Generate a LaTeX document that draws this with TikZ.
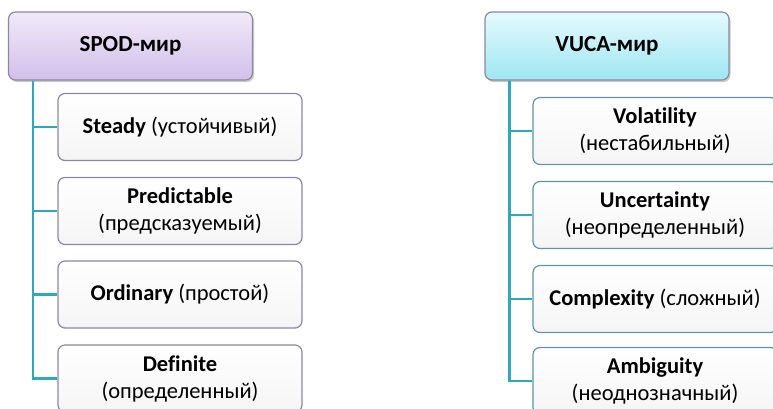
\documentclass[tikz,border=0pt]{standalone}
\usepackage{fontspec}
\setmainfont{Carlito}[Ligatures=NoCommon]
\usetikzlibrary{shadows}

\definecolor{spodtop}{HTML}{F1EAF8}
\definecolor{spodbot}{HTML}{D2BFEB}
\definecolor{vucatop}{HTML}{E4FAFD}
\definecolor{vucabot}{HTML}{9FE6F2}
\definecolor{headline}{HTML}{8A8A9E}
\definecolor{spodline}{HTML}{8C86A8}
\definecolor{vucaline}{HTML}{5F93A8}
\definecolor{branch}{HTML}{2FA9BA}

\tikzset{
  headbox/.style={draw=headline, line width=1.2pt, rounded corners=7pt,
    minimum width=244pt, minimum height=68pt, font=\fontsize{23}{27}\selectfont\bfseries,
    drop shadow={shadow xshift=1.5pt, shadow yshift=-2pt, fill=black!35, opacity=0.6}},
  itembox/.style={line width=1.2pt, rounded corners=7pt, top color=white, bottom color=black!4,
    minimum width=244pt, minimum height=67pt, align=center,
    font=\fontsize{22.5}{27}\selectfont},
  spoditem/.style={itembox, draw=spodline},
  vucaitem/.style={itembox, draw=vucaline},
  conn/.style={draw=branch, line width=2.2pt}
}

\begin{document}
\begin{tikzpicture}[x=1pt,y=-1pt]
    \useasboundingbox (0,0) rectangle (773,408);
    \clip (0,0) rectangle (773,408);
    % SPOD
    \node[headbox, top color=spodtop, bottom color=spodbot] (spod) at (130.5,46) {SPOD-мир};
    \node[spoditem] (steady) at (180,127) {\textbf{Steady} (устойчивый)};
    \node[spoditem] (predictable) at (180,211) {\textbf{Predictable}\\(предсказуемый)};
    \node[spoditem] (ordinary) at (180,294.5) {\textbf{Ordinary} (простой)};
    \node[spoditem] (definite) at (180,378.5) {\textbf{Definite}\\(определенный)};
    \coordinate (spodroot) at ([xshift=25pt]spod.south west);
    \foreach \n in {steady,predictable,ordinary,definite}
      \draw[conn] (spodroot) |- (\n.west);
    % VUCA
    \node[headbox, top color=vucatop, bottom color=vucabot] (vuca) at (607,46) {VUCA-мир};
    \node[vucaitem] (volatility) at (655,131) {\textbf{Volatility}\\(нестабильный)};
    \node[vucaitem] (uncertainty) at (655,215) {\textbf{Uncertainty}\\(неопределенный)};
    \node[vucaitem] (complexity) at (655,299) {\textbf{Complexity} (сложный)};
    \node[vucaitem] (ambiguity) at (655,381) {\textbf{Ambiguity}\\(неоднозначный)};
    \coordinate (vucaroot) at ([xshift=25pt]vuca.south west);
    \foreach \n in {volatility,uncertainty,complexity,ambiguity}
      \draw[conn] (vucaroot) |- (\n.west);
\end{tikzpicture}
\end{document}
